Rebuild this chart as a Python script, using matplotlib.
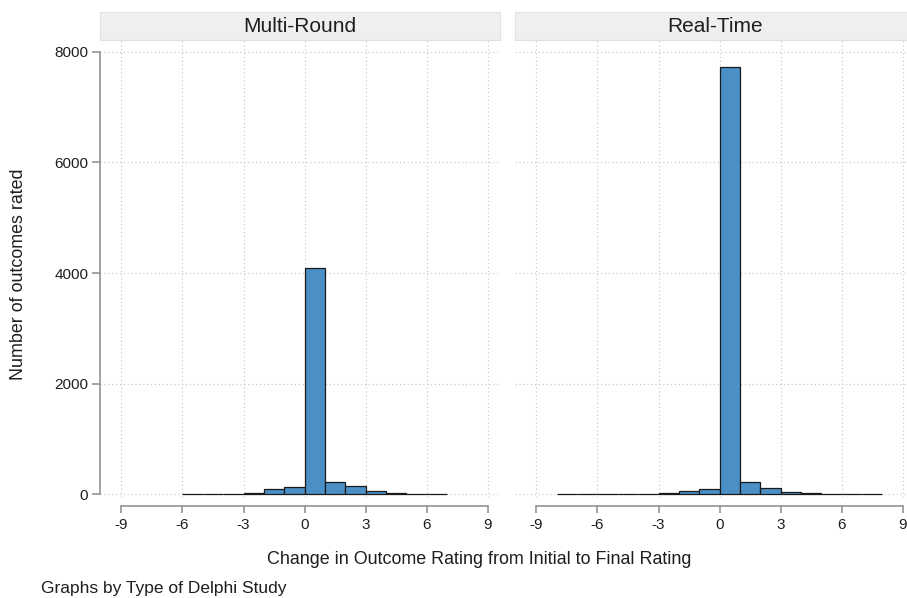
import matplotlib
matplotlib.use("Agg")
import matplotlib.pyplot as plt
import numpy as np

plt.rcParams["font.family"] = ["Liberation Sans", "DejaVu Sans"]
plt.rcParams["axes.unicode_minus"] = False

# histogram counts, bin width 1, keyed by left bin edge
mr_edges = [-6, -5, -4, -3, -2, -1, 0, 1, 2, 3, 4, 5, 6]
mr_counts = [4, 3, 2, 18, 98, 118, 4090, 225, 145, 62, 25, 8, 4]

rt_edges = [-8, -7, -6, -5, -4, -3, -2, -1, 0, 1, 2, 3, 4, 5, 6, 7]
rt_counts = [3, 3, 4, 4, 5, 15, 55, 92, 7730, 215, 112, 32, 15, 5, 4, 3]

panels = ["Multi-Round", "Real-Time"]
x_ticks = [-9, -6, -3, 0, 3, 6, 9]
y_ticks = [0, 2000, 4000, 6000, 8000]

W, H = 907, 598
bar_color = "#4a8fc6"
axis_gray = "#8a8a8a"
grid_gray = "#c4c4c4"
text_col = "#1e1e1e"

fig = plt.figure(figsize=(W / 100, H / 100), dpi=100)


def px(x0, y0, x1, y1):
    return [x0 / W, 1 - y1 / H, (x1 - x0) / W, (y1 - y0) / H]


data = [(mr_edges, mr_counts), (rt_edges, rt_counts)]
lefts = [100, 515]

for i, (name, (edges, counts)) in enumerate(zip(panels, data)):
    x0 = lefts[i]
    ax = fig.add_axes(px(x0, 40, x0 + 400, 497))
    ax.bar(edges, counts, width=1, align="edge", color=bar_color,
           edgecolor="#1a1a1a", linewidth=0.9, zorder=3)
    ax.set_xlim(-10.05, 9.6)
    ax.set_ylim(-54, 8217)
    ax.set_xticks(x_ticks)
    ax.set_yticks(y_ticks)
    ax.grid(True, linestyle=(0, (1, 2.5)), color=grid_gray, linewidth=0.8, zorder=0)
    for s in ["top", "right"]:
        ax.spines[s].set_visible(False)
    ax.spines["bottom"].set_position(("outward", 6.5))
    ax.spines["bottom"].set_bounds(-9, 9)
    ax.spines["bottom"].set_color(axis_gray)
    ax.spines["bottom"].set_linewidth(1.1)
    ax.tick_params(axis="x", colors=axis_gray, length=5, width=1.1, pad=3.5,
                   labelcolor=text_col, labelsize=11)
    if i == 0:
        ax.spines["left"].set_bounds(0, 8000)
        ax.spines["left"].set_color(axis_gray)
        ax.spines["left"].set_linewidth(1.1)
        ax.tick_params(axis="y", colors=axis_gray, length=6, width=1.1, pad=2.5,
                       labelcolor=text_col, labelsize=11)
    else:
        ax.spines["left"].set_visible(False)
        ax.tick_params(axis="y", length=0, labelleft=False)

    # strip title
    sx = fig.add_axes(px(x0, 12, x0 + 400, 40))
    sx.set_facecolor("#eeeff0")
    sx.set_xticks([])
    sx.set_yticks([])
    for s in sx.spines.values():
        s.set_color("#dde3e6")
        s.set_linewidth(0.8)
    sx.text(0.5, 0.5, name, ha="center", va="center", fontsize=15,
            color=text_col, transform=sx.transAxes)

fig.text(479 / W, 1 - 559 / H, "Change in Outcome Rating from Initial to Final Rating",
         ha="center", va="center", fontsize=12.85, color=text_col)
fig.text(18.5 / W, 1 - 274 / H, "Number of outcomes rated", rotation=90,
         ha="center", va="center", fontsize=12.85, color=text_col)
fig.text(41 / W, 1 - 588 / H, "Graphs by Type of Delphi Study",
         ha="left", va="center", fontsize=12.5, color=text_col)

fig.savefig("out.png", dpi=100, facecolor="white")
